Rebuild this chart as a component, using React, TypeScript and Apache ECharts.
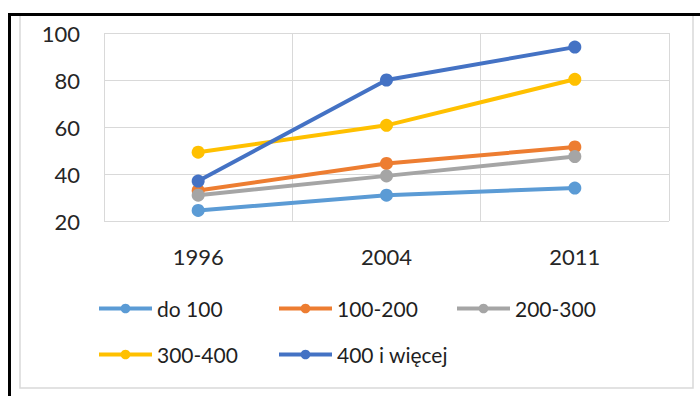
import React, { useEffect, useRef } from "react";
import * as echarts from "echarts";

const years = ["1996", "2004", "2011"];
const seriesNames = ["do 100", "100-200", "200-300", "300-400", "400 i więcej"];
const do100 = [24.5, 31, 34];
const s100to200 = [33, 44.5, 51.5];
const s200to300 = [31, 39.2, 47.4];
const s300to400 = [49.3, 60.7, 80.3];
const s400plus = [37, 80, 94];
const colors = ["#5B9BD5", "#ED7D31", "#A5A5A5", "#FFC000", "#4472C4"];
const yTicks = { min: 20, max: 100, interval: 20 };

// legend grid: three columns, two rows
const legendCols = [97, 277, 455];
const legendRows = [298, 344];

const FONT = "Lato, 'Open Sans', sans-serif";

export default function App() {
  const ref = useRef<HTMLDivElement>(null);

  useEffect(() => {
    if (!ref.current) return;
    const chart = echarts.init(ref.current, null, { renderer: "svg" });
    const values = [do100, s100to200, s200to300, s300to400, s400plus];

    const legends = seriesNames.map((name, i) => ({
      data: [name],
      left: legendCols[i % 3],
      top: legendRows[Math.floor(i / 3)],
      itemWidth: 53,
      itemHeight: 12,
      padding: 0,
      selectedMode: false,
      lineStyle: { width: 4 },
      textStyle: { fontFamily: FONT, fontSize: 21, color: "#1f1f1f" },
    }));

    chart.setOption({
      animation: false,
      backgroundColor: "#ffffff",
      color: colors,
      grid: { left: 104, right: 31, top: 33, bottom: 175 },
      xAxis: {
        type: "category",
        data: years,
        boundaryGap: true,
        axisLine: { show: false },
        axisTick: { show: false },
        splitLine: { show: true, interval: 0, lineStyle: { color: "#D9D9D9", width: 1 } },
        axisLabel: { fontFamily: FONT, fontSize: 22, color: "#262626", margin: 24 },
      },
      yAxis: {
        type: "value",
        min: yTicks.min,
        max: yTicks.max,
        interval: yTicks.interval,
        axisLine: { show: false },
        axisTick: { show: false },
        splitLine: { lineStyle: { color: "#D9D9D9", width: 1 } },
        axisLabel: { fontFamily: FONT, fontSize: 22, color: "#262626", margin: 24 },
      },
      legend: legends,
      series: seriesNames.map((name, i) => ({
        name,
        type: "line",
        data: values[i],
        symbol: "circle",
        symbolSize: 13,
        lineStyle: { width: 4, color: colors[i] },
        itemStyle: { color: colors[i] },
      })),
      graphic: [
        {
          type: "rect",
          shape: { x: 20, y: 15, width: 673, height: 373 },
          style: { fill: "none", stroke: "#D9D9D9", lineWidth: 1.5 },
          silent: true,
        },
        {
          type: "rect",
          shape: { x: 9.5, y: 14.5, width: 720, height: 420 },
          style: { fill: "none", stroke: "#000000", lineWidth: 3 },
          silent: true,
        },
      ],
    });

    return () => chart.dispose();
  }, []);

  return (
    <div
      ref={ref}
      style={{ position: "fixed", left: 0, top: 0, width: 700, height: 396 }}
    />
  );
}
